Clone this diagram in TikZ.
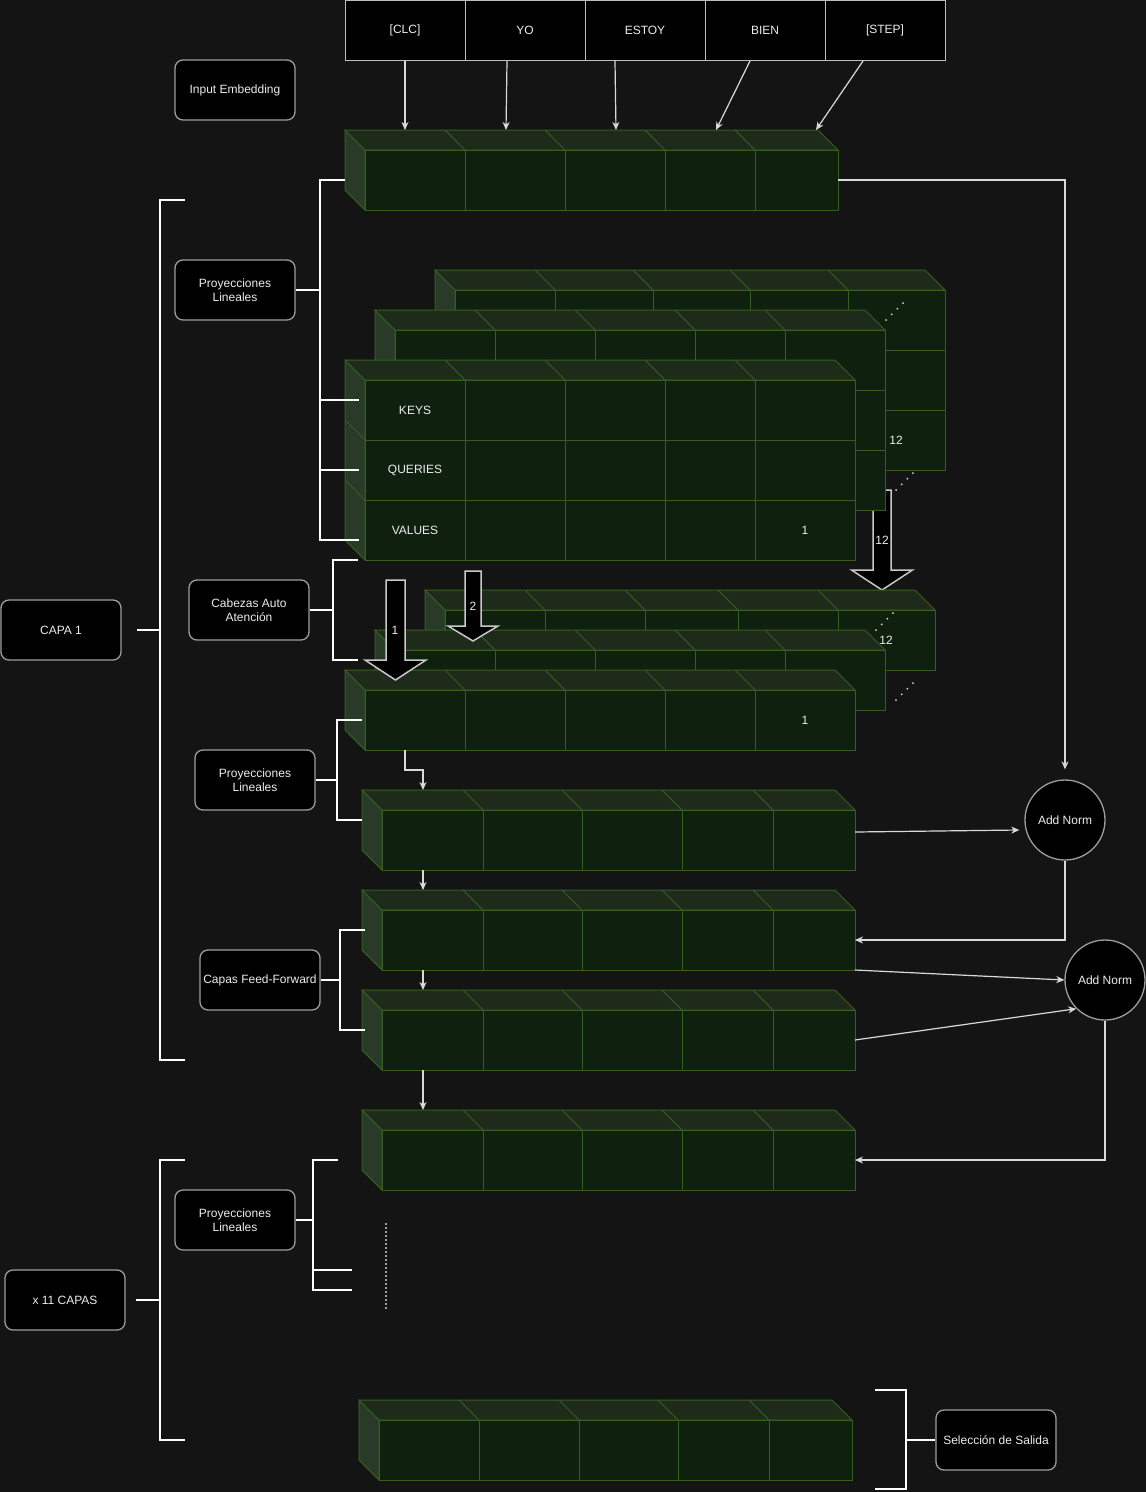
\documentclass[tikz,border=0pt]{standalone}
\usepackage{fontspec}
\setmainfont{Liberation Sans}
\usetikzlibrary{arrows.meta, calc}
\definecolor{bgdark}{HTML}{141414}
\definecolor{gfront}{HTML}{10200F}
\definecolor{gtop}{HTML}{1E2B1B}
\definecolor{gleft}{HTML}{2A3A28}
\definecolor{gedge}{HTML}{345F1F}
\definecolor{boxgray}{HTML}{9E9E9E}
\definecolor{tokgray}{HTML}{BDBDBD}
\definecolor{txtw}{HTML}{EDEDED}
\definecolor{connc}{HTML}{D9D9D9}
\definecolor{arrgray}{HTML}{C8C8C8}
\newcommand{\lblfont}{\fontsize{12}{14}\selectfont}
\tikzset{
  tokbox/.style={rectangle, draw=tokgray, line width=1pt, fill=black, text=txtw,
    minimum width=120pt, minimum height=60pt, font=\lblfont},
  lblbox/.style={rectangle, rounded corners=8pt, draw=boxgray, line width=1.3pt, fill=black,
    text=txtw, minimum width=120pt, minimum height=60pt, inner sep=1pt, align=center, font=\lblfont},
  normnode/.style={circle, draw=boxgray, line width=1.3pt, fill=black, text=txtw,
    minimum size=80pt, inner sep=0pt, font=\lblfont},
  celltxt/.style={text=txtw, font=\lblfont, inner sep=0pt},
  gleftface/.style={fill=gleft, draw=gedge, line width=1pt},
  gtopface/.style={fill=gtop, draw=gedge, line width=1pt},
  gfrontface/.style={fill=gfront, draw=gedge, line width=1pt},
  gline/.style={draw=gedge, line width=1pt},
  arrow/.style={-{Stealth[length=8pt, width=7pt, inset=2.5pt]}, draw=connc, line width=1.2pt},
  brack/.style={draw=white, line width=2pt},
  blockarr/.style={fill=black, draw=arrgray, line width=1.5pt, line join=miter},
  dotsdiag/.style={draw=connc, line width=2pt, line cap=round, dash pattern=on 0pt off 8pt},
  vdots/.style={draw=boxgray, line width=1.5pt, dash pattern=on 2pt off 2pt},
}
% green block of cells: name, back x, back y, front right x, rows, inner dividers
\newcommand{\gblock}[6]{%
  \pgfmathsetmacro\gbBot{#3+20+60*#5}
  \filldraw[gleftface] (#2,#3) -- ({#2+20},{#3+20}) -- ({#2+20},\gbBot) -- (#2,{\gbBot-20}) -- cycle;
  \filldraw[gtopface] (#2,#3) -- ({#4-20},#3) -- (#4,{#3+20}) -- ({#2+20},{#3+20}) -- cycle;
  \foreach \cx in {#6} \draw[gline] ({\cx-20},#3) -- (\cx,{#3+20});
  \filldraw[gfrontface] ({#2+20},{#3+20}) rectangle (#4,\gbBot);
  \foreach \cx in {#6} \draw[gline] (\cx,{#3+20}) -- (\cx,\gbBot);
  \foreach \r in {1,...,#5} {
    \draw[gline] (#2,{#3+60*\r}) -- ({#2+20},{#3+20+60*\r});
    \draw[gline] ({#2+20},{#3+20+60*\r}) -- (#4,{#3+20+60*\r});
  }
  \node[inner sep=0pt, outer sep=0pt, anchor=north west, minimum width={(#4-#2-20)*1pt},
    minimum height={60pt*#5}] (#1) at ({#2+20},{#3+20}) {};
}
% big down arrow: centre x, top, head, tip, shaft width, head width
\newcommand{\headarrow}[6]{%
  \draw[blockarr] ({#1-#5/2},#2) -- ({#1+#5/2},#2) -- ({#1+#5/2},#3) -- ({#1+#6/2},#3)
    -- (#1,#4) -- ({#1-#6/2},#3) -- ({#1-#5/2},#3) -- cycle;
}
\begin{document}
\begin{tikzpicture}[x=1pt, y=-1pt]
\fill[bgdark] (0,0) rectangle (1146,1492);
\useasboundingbox (0,0) rectangle (1146,1492);

% tokens
\foreach \nm/\tx/\cx in {tCLC/{[CLC]}/405, tYO/YO/525, tEST/ESTOY/645, tBIEN/BIEN/765, tSTEP/{[STEP]}/885}
  \node[tokbox] (\nm) at (\cx,30.5) {\tx};
\node[lblbox] (inemb) at (235,90) {Input Embedding};

% embedding
\gblock{emb}{345}{130}{838}{1}{465,565,665,755}
\foreach \nm/\ex in {e1/405, e2/506, e3/616, e4/716, e5/816}
  \coordinate (\nm) at (\ex,130);
\foreach \a/\dx/\b in {tCLC/0/e1, tYO/-18/e2, tEST/-30/e3, tBIEN/-15/e4, tSTEP/-22/e5}
  \draw[arrow] ([xshift=\dx pt]\a.south) -- (\b);

% keys, queries, values
\headarrow{882}{490}{570}{590}{18}{61}
\node[celltxt] (kvout) at (882,540) {12};
\gblock{kv3}{435}{270}{945}{3}{555,653,750,848}
\gblock{kv2}{375}{310}{885}{3}{495,595,695,785}
\gblock{kv1}{345}{360}{855}{3}{465,565,665,755}
\node[celltxt] (keys) at (415,410) {KEYS};
\node[celltxt] (queries) at (415,470) {QUERIES};
\node[celltxt] (values) at (415,530) {VALUES};
\node[celltxt] (kvone) at (805,530) {1};
\node[celltxt] (kvtwelve) at (896,440) {12};
\draw[dotsdiag] (886,320) -- (904,302);
\draw[dotsdiag] (896,490) -- (914,472);

% attention heads
\gblock{hd3}{425}{590}{935}{1}{545,645,738,838}
\gblock{hd2}{375}{630}{885}{1}{495,595,695,785}
\gblock{hd1}{345}{670}{855}{1}{465,565,665,755}
\node[celltxt] (hdtwelve) at (886,640) {12};
\node[celltxt] (hdone) at (805,720) {1};
\draw[dotsdiag] (876,630) -- (894,612);
\draw[dotsdiag] (896,700) -- (914,682);
\headarrow{395.5}{580}{660}{680}{19}{61}
\node[celltxt] (hdin1) at (395,630) {1};
\headarrow{473}{571}{626}{641}{16}{50}
\node[celltxt] (hdin2) at (473,606) {2};

% projections, feed-forward, output
\gblock{bA}{362}{790}{855}{1}{483,582,682,773}
\gblock{bB}{362}{890}{855}{1}{483,582,682,773}
\gblock{bC}{362}{990}{855}{1}{483,582,682,773}
\gblock{bD}{362}{1110}{855}{1}{483,582,682,773}
\gblock{bE}{359}{1400}{852}{1}{479,579,678,769}
\node[normnode] (an1) at (1065,820) {Add Norm};
\node[normnode] (an2) at (1105,980) {Add Norm};

\draw[arrow] (emb.east) -| ([yshift=10pt]an1.north);
\draw[arrow] ([yshift=8pt]bA.east) -- ([shift={(-5pt,-10pt)}]an1.west);
\draw[arrow] (an1.south) |- (bB.east);
\draw[arrow] (bB.south east) -- (an2.west);
\draw[arrow] (bC.east) -- (an2.south west);
\draw[arrow] (an2.south) |- (bD.east);
\draw[arrow] ([xshift=40pt]hd1.south west) -- ++(0,20) -| ([xshift=41pt,yshift=20pt]bA.north west);
\foreach \a/\b in {bA/bB, bB/bC, bC/bD}
  \draw[arrow] ([xshift=41pt]\a.south west) -- ([xshift=41pt,yshift=20pt]\b.north west);
\draw[vdots] (386,1223) -- (386,1310);

% labels and brackets
\node[lblbox] (pl1) at (235,290) {Proyecciones\\Lineales};
\node[lblbox] (capa) at (61,630) {CAPA 1};
\node[lblbox] (cab) at (249,610) {Cabezas Auto\\Atención};
\node[lblbox] (pl2) at (255,780) {Proyecciones\\Lineales};
\node[lblbox] (ffw) at (260,980) {Capas Feed-Forward};
\node[lblbox] (capas) at (65,1300) {x 11 CAPAS};
\node[lblbox] (pl3) at (235,1220) {Proyecciones\\Lineales};
\node[lblbox] (salida) at (996,1440) {Selección de Salida};

\draw[brack] ([xshift=15pt]capa.east) -- (160,630);
\draw[brack] (185,200) -| (160,1060) -- (185,1060);
\draw[brack] (pl1.east) -- (320,290);
\draw[brack] ([xshift=-20pt]emb.west) -| (320,540) -- (359,540);
\foreach \ty in {400,470}
  \draw[brack] (320,\ty) -- (359,\ty);
\draw[brack] (cab.east) -- (333,610);
\draw[brack] (358,560) -| (333,660) -- (358,660);
\draw[brack] (pl2.east) -- (337,780);
\draw[brack] (362,720) -| (337,820) -- (362,820);
\draw[brack] (ffw.east) -- (340,980);
\draw[brack] (365,930) -| (340,1030) -- (365,1030);
\draw[brack] ([xshift=10pt]capas.east) -- (160,1300);
\draw[brack] (185,1160) -| (160,1440) -- (185,1440);
\draw[brack] (pl3.east) -- (313,1220);
\draw[brack] (338,1160) -| (313,1290) -- (352,1290);
\draw[brack] (313,1270) -- (352,1270);
\draw[brack] (salida.west) -- (906,1440);
\draw[brack] (875,1390) -| (906,1489) -- (875,1489);
\end{tikzpicture}
\end{document}
